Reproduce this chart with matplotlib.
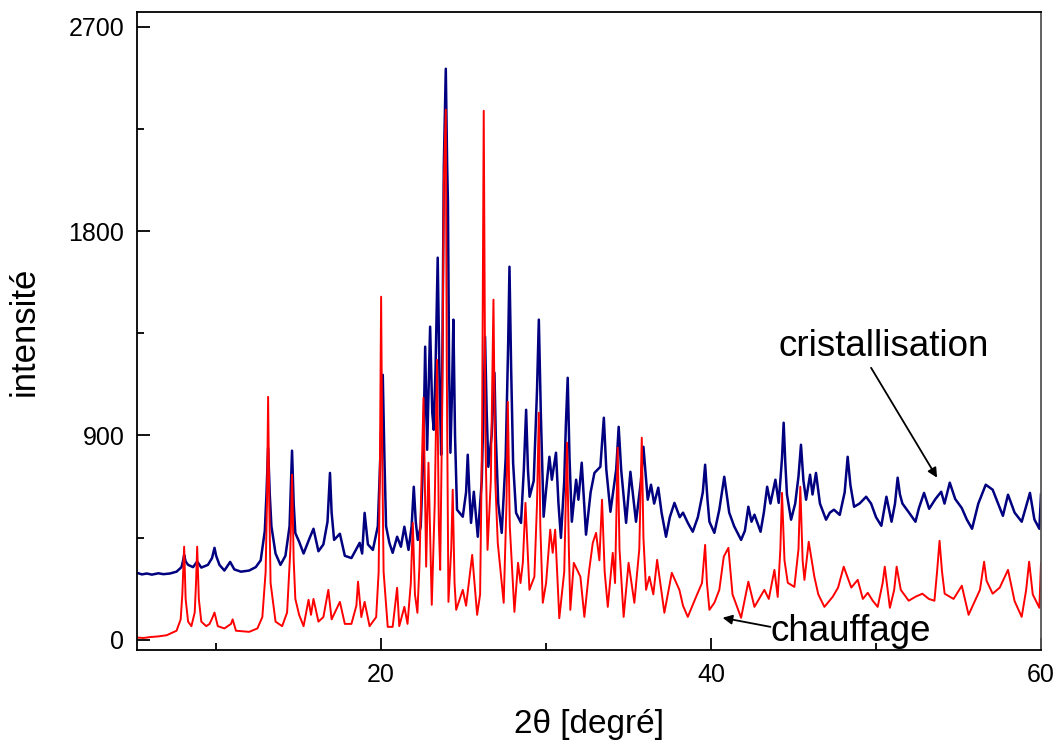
import matplotlib
matplotlib.use("Agg")
import matplotlib.pyplot as plt
from matplotlib.ticker import MultipleLocator

plt.rcParams['font.family'] = ['Liberation Sans', 'DejaVu Sans']

# (2theta, intensity) vertices
cristal_pts = [
    (5.2, 295), (5.5, 288), (5.8, 292), (6.1, 287), (6.5, 293), (6.8, 289), (7.2, 292),
    (7.6, 300), (7.9, 320), (8.0, 350), (8.06, 374), (8.15, 345), (8.3, 330), (8.6, 320),
    (8.85, 345), (9.1, 318), (9.5, 330), (9.75, 360), (9.9, 405), (10.0, 370), (10.2, 330),
    (10.5, 305), (10.85, 343), (11.1, 310), (11.5, 300), (12.0, 305), (12.4, 320),
    (12.7, 350), (12.95, 480), (13.05, 640), (13.15, 845), (13.25, 640), (13.35, 500),
    (13.6, 380), (13.9, 330), (14.2, 370), (14.45, 500), (14.6, 833), (14.7, 600),
    (14.8, 470), (15.03, 432), (15.3, 380), (15.67, 449), (15.9, 489), (16.2, 390),
    (16.5, 420), (16.75, 520), (16.9, 735), (17.0, 560), (17.15, 440), (17.5, 467),
    (17.8, 370), (18.2, 360), (18.5, 400), (18.7, 427), (18.85, 380), (19.0, 559),
    (19.2, 420), (19.5, 396), (19.8, 500), (19.95, 800), (20.1, 1167), (20.2, 800),
    (20.3, 500), (20.5, 427), (20.7, 383), (20.97, 454), (21.2, 410), (21.41, 498),
    (21.66, 396), (21.85, 500), (21.98, 674), (22.1, 520), (22.22, 440), (22.4, 500),
    (22.55, 800), (22.67, 1291), (22.79, 837), (22.97, 1379), (23.1, 1000), (23.19, 925),
    (23.3, 1200), (23.43, 1683), (23.55, 1100), (23.64, 815), (23.72, 1300), (23.8, 2084),
    (23.92, 2515), (24.0, 2100), (24.05, 1925), (24.12, 1200), (24.2, 824), (24.3, 1100),
    (24.38, 1410), (24.48, 900), (24.6, 573), (24.95, 542), (25.15, 650), (25.25, 815),
    (25.35, 650), (25.45, 515), (25.62, 652), (25.86, 454), (26.1, 700), (26.2, 1000),
    (26.3, 1335), (26.4, 1000), (26.5, 762), (26.7, 900), (26.87, 1176), (26.95, 900),
    (27.1, 600), (27.31, 471), (27.55, 800), (27.7, 1300), (27.78, 1643), (27.88, 1200),
    (28.0, 780), (28.18, 559), (28.48, 515), (28.65, 750), (28.79, 1013), (28.9, 750),
    (29.0, 630), (29.25, 700), (29.45, 1100), (29.56, 1410), (29.68, 1000), (29.85, 542),
    (30.0, 661), (30.2, 806), (30.35, 705), (30.6, 824), (30.75, 600), (30.9, 449),
    (31.1, 700), (31.2, 950), (31.31, 1154), (31.42, 800), (31.56, 520), (31.82, 705),
    (31.96, 617), (32.16, 780), (32.42, 463), (32.7, 650), (32.93, 735), (33.29, 762),
    (33.5, 978), (33.65, 750), (33.9, 564), (34.25, 750), (34.4, 938), (34.55, 750),
    (34.85, 515), (35.11, 740), (35.45, 520), (35.75, 700), (35.9, 850), (36.16, 617),
    (36.36, 683), (36.55, 600), (36.8, 670), (37.0, 560), (37.27, 454), (37.5, 540),
    (37.78, 603), (38.1, 540), (38.3, 560), (38.59, 515), (38.89, 476), (39.2, 540),
    (39.5, 650), (39.64, 771), (39.78, 620), (39.9, 520), (40.2, 471), (40.5, 573),
    (40.8, 718), (41.1, 560), (41.4, 500), (41.82, 440), (42.05, 480), (42.26, 586),
    (42.45, 520), (42.63, 551), (43.0, 476), (43.2, 560), (43.4, 674), (43.6, 600),
    (43.9, 705), (44.1, 603), (44.3, 800), (44.4, 956), (44.5, 780), (44.6, 640),
    (44.85, 529), (45.1, 600), (45.3, 720), (45.45, 859), (45.6, 700), (45.76, 617),
    (46.0, 727), (46.15, 640), (46.36, 735), (46.6, 600), (46.97, 529), (47.2, 560),
    (47.45, 573), (47.8, 550), (48.1, 650), (48.28, 806), (48.45, 680), (48.67, 586),
    (49.0, 600), (49.4, 630), (49.7, 600), (50.0, 540), (50.32, 502), (50.63, 630),
    (50.94, 520), (51.15, 600), (51.31, 714), (51.45, 640), (51.6, 600), (52.0, 560),
    (52.39, 520), (52.6, 580), (52.91, 647), (53.22, 577), (53.6, 620), (53.95, 652),
    (54.15, 600), (54.47, 692), (54.8, 620), (55.2, 580), (55.5, 530), (55.82, 489),
    (56.2, 600), (56.65, 683), (57.07, 661), (57.4, 600), (57.69, 546), (58.0, 639),
    (58.4, 560), (58.83, 520), (59.33, 647), (59.6, 530), (59.9, 489), (60.0, 640),
]

chauff_pts = [
    (5.2, 10), (5.6, 8), (6.0, 12), (6.5, 15), (7.0, 20), (7.6, 40), (7.85, 90),
    (7.95, 200), (8.06, 410), (8.15, 180), (8.3, 80), (8.5, 60), (8.7, 120), (8.78, 250),
    (8.85, 410), (8.95, 180), (9.1, 80), (9.4, 60), (9.6, 70), (9.76, 95), (9.9, 120),
    (10.1, 60), (10.5, 50), (10.9, 70), (11.0, 90), (11.2, 40), (12.0, 35), (12.5, 50),
    (12.8, 100), (13.0, 300), (13.08, 600), (13.15, 1070), (13.22, 600), (13.3, 250),
    (13.6, 80), (14.0, 60), (14.3, 120), (14.5, 400), (14.6, 727), (14.7, 350),
    (14.8, 180), (15.03, 110), (15.3, 60), (15.6, 176), (15.75, 110), (15.9, 180),
    (16.2, 80), (16.5, 100), (16.8, 220), (17.0, 90), (17.5, 167), (17.8, 70), (18.2, 70),
    (18.5, 150), (18.6, 256), (18.8, 100), (19.0, 167), (19.3, 60), (19.7, 100),
    (19.85, 300), (19.93, 800), (20.0, 1511), (20.07, 800), (20.15, 300), (20.4, 57),
    (20.7, 57), (20.97, 229), (21.1, 60), (21.41, 145), (21.6, 70), (21.8, 250),
    (21.92, 515), (22.05, 200), (22.2, 119), (22.32, 322), (22.45, 700), (22.57, 1066),
    (22.73, 322), (22.87, 780), (23.07, 154), (23.25, 600), (23.39, 1233), (23.5, 500),
    (23.58, 308), (23.7, 1000), (23.8, 2013), (23.92, 2335), (23.98, 1200), (24.08, 167),
    (24.25, 400), (24.34, 661), (24.45, 250), (24.55, 132), (24.95, 220), (25.15, 150),
    (25.52, 374), (25.82, 110), (26.0, 200), (26.12, 900), (26.22, 2330), (26.32, 900),
    (26.45, 396), (26.65, 700), (26.81, 1498), (26.92, 700), (27.07, 427), (27.43, 163),
    (27.6, 600), (27.68, 1048), (27.8, 500), (28.08, 123), (28.3, 339), (28.45, 250),
    (28.59, 339), (28.75, 603), (28.99, 220), (29.29, 278), (29.45, 600), (29.56, 1000),
    (29.65, 500), (29.8, 163), (30.0, 250), (30.25, 485), (30.4, 383), (30.55, 485),
    (30.8, 95), (31.1, 300), (31.27, 868), (31.38, 400), (31.47, 132), (31.68, 339),
    (32.08, 278), (32.32, 101), (32.6, 300), (32.83, 427), (33.03, 471), (33.23, 350),
    (33.39, 617), (33.55, 300), (33.74, 145), (34.04, 383), (34.18, 250), (34.34, 846),
    (34.45, 400), (34.7, 101), (35.0, 339), (35.35, 163), (35.65, 400), (35.8, 890),
    (35.9, 450), (36.06, 220), (36.26, 278), (36.5, 200), (36.73, 352), (37.17, 119),
    (37.62, 295), (38.08, 220), (38.3, 150), (38.59, 101), (39.09, 189), (39.45, 250),
    (39.64, 418), (39.75, 250), (39.9, 132), (40.2, 163), (40.5, 220), (40.77, 366),
    (41.05, 405), (41.3, 200), (41.82, 97), (42.26, 256), (42.63, 145), (43.23, 220),
    (43.5, 180), (43.84, 308), (44.04, 189), (44.2, 400), (44.3, 647), (44.45, 350),
    (44.65, 251), (45.05, 233), (45.3, 400), (45.41, 674), (45.55, 350), (45.66, 264),
    (45.92, 432), (46.26, 278), (46.5, 200), (46.87, 145), (47.37, 189), (47.7, 230),
    (48.04, 322), (48.5, 230), (48.89, 264), (49.2, 180), (49.5, 207), (49.8, 172),
    (50.1, 145), (50.4, 250), (50.53, 322), (50.84, 141), (51.1, 220), (51.25, 322),
    (51.5, 220), (51.98, 172), (52.4, 190), (52.81, 203), (53.2, 180), (53.54, 172),
    (53.7, 300), (53.85, 436), (54.0, 300), (54.16, 203), (54.7, 180), (55.2, 238),
    (55.61, 110), (56.3, 220), (56.55, 344), (56.7, 260), (57.07, 203), (57.5, 230),
    (58.0, 308), (58.4, 170), (58.83, 101), (59.1, 220), (59.28, 344), (59.5, 200),
    (59.9, 141), (60.0, 340),
]

x_cristal, y_cristal = zip(*cristal_pts)
x_chauff, y_chauff = zip(*chauff_pts)

fig = plt.figure(figsize=(10.56, 7.45), dpi=100)
ax = fig.add_axes([0.1297, 0.1275, 0.8561, 0.8564])

ax.plot(x_cristal, y_cristal, color='#000080', lw=1.8)
ax.plot(x_chauff, y_chauff, color='#ff0000', lw=1.4)

ax.set_xlim(5.2, 60)
ax.set_ylim(-45, 2765)
ax.xaxis.set_major_locator(MultipleLocator(20))
ax.xaxis.set_minor_locator(MultipleLocator(10))
ax.yaxis.set_major_locator(MultipleLocator(900))
ax.yaxis.set_minor_locator(MultipleLocator(450))
ax.tick_params(which='both', direction='in', top=False, right=False,
               labelsize=18, width=1.3)
ax.tick_params(which='major', length=9, pad=9)
ax.tick_params(which='minor', length=5)
for s in ax.spines.values():
    s.set_linewidth(1.3)
ax.spines['right'].set_color('#555555')

ax.set_xlabel('2θ [degré]', fontsize=24, labelpad=16)
ax.set_ylabel('intensité', fontsize=25, labelpad=20)

ax.annotate('cristallisation', xy=(53.7, 714), xytext=(44.1, 1290),
            fontsize=26.5, va='center', ha='left')
ax.annotate('', xy=(53.7, 714), xytext=(49.7, 1198),
            arrowprops=dict(arrowstyle='-|>', color='black', lw=1.3,
                            mutation_scale=14, shrinkA=0, shrinkB=0))
ax.annotate('chauffage', xy=(40.7, 97), xytext=(43.6, 35),
            fontsize=26.5, va='center', ha='left')
ax.annotate('', xy=(40.7, 97), xytext=(43.6, 57),
            arrowprops=dict(arrowstyle='-|>', color='black', lw=1.3,
                            mutation_scale=14, shrinkA=0, shrinkB=0))

fig.savefig('out.png', dpi=100)
